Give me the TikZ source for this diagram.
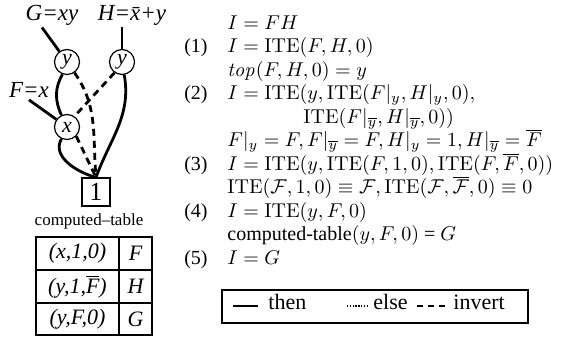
\documentclass[tikz,border=0pt]{standalone}
\usepackage{amsmath, amssymb}
\usepackage[no-math]{fontspec}
\setmainfont{Liberation Serif}
\usepackage{tikz}

\tikzset{
  bddnode/.style={circle, draw, line width=0.6pt, inner sep=0pt, minimum size=12.5pt, font=\fontsize{11}{12}\selectfont\itshape},
  termbox/.style={rectangle, draw, line width=0.6pt, inner sep=0pt, minimum size=14pt, font=\fontsize{13}{14}\selectfont},
  funclabel/.style={inner sep=1pt, font=\fontsize{11.5}{13}\selectfont\itshape},
  thenedge/.style={line width=1.4pt},
  invedge/.style={line width=1.4pt, dash pattern=on 3.5pt off 2.5pt},
  eqn/.style={anchor=base west, inner sep=0pt},
  eqnum/.style={anchor=base east, inner sep=0pt},
  cell/.style={inner sep=0pt, font=\fontsize{11}{12}\selectfont\itshape}
}

\begin{document}
\begin{tikzpicture}[x=0.5pt, y=-0.5pt]
  \useasboundingbox (0,0) rectangle (570,341);
  % shared BDD
  \node[funclabel] (Glab) at (52,15) {G=xy};
  \node[funclabel] (Hlab) at (132,15) {H=\=x+y};
  \node[funclabel] (Flab) at (29,90) {F=x};
  \node[bddnode] (yl) at (67,62) {y};
  \node[bddnode] (yr) at (122,62) {y};
  \node[bddnode] (xn) at (67,127) {x};
  \node[termbox] (one) at (96,192) {1};
  \draw[thenedge] ([xshift=-5pt]Glab.south) -- (yl);
  \draw[thenedge] (Hlab.south -| yr) -- (yr);
  \draw[thenedge] (Flab.south) -- (xn);
  \draw[thenedge] (yl.250) to[out=240, in=115] (xn.115);
  \draw[invedge] (yl.-55) to[out=-55, in=95] (one.north);
  \draw[invedge] (yr.235) -- (xn.55);
  \draw[thenedge] (yr.-80) to[out=-80, in=70] (one.north);
  \draw[thenedge] (xn.245) to[out=240, in=165] (one.north);
  \draw[invedge] (xn.-45) -- (one.north);
  % computed table
  \node[inner sep=0pt, font=\fontsize{8.5}{10}\selectfont] (ctlabel) at (89,221) {computed–table};
  \draw[line width=0.7pt] (36,237) rectangle (152,335);
  \draw[line width=0.7pt] (119,237) -- (119,335);
  \draw[line width=0.7pt] (36,270) -- (152,270) (36,303) -- (152,303);
  \node[cell] (k1) at (77.5,253.5) {(x,1,0)};
  \node[cell] (k2) at (77.5,286.5) {(y,1,$\overline{\textit{F}}$)};
  \node[cell] (k3) at (77.5,319) {(y,F,0)};
  \node[cell] (v1) at (135.5,253.5) {F};
  \node[cell] (v2) at (135.5,286.5) {H};
  \node[cell] (v3) at (135.5,319) {G};
  % derivation
  \node[eqn] (e0) at (227,30) {$I = FH$};
  \node[eqnum] (n1) at (208,53) {(1)};
  \node[eqn] (e1) at (227,53) {$I = \mathrm{ITE}(F,H,0)$};
  \node[eqn] (e2) at (227,77) {$\mathit{top}(F,H,0) = y$};
  \node[eqnum] (n2) at (208,100) {(2)};
  \node[eqn] (e3) at (227,100) {$I = \mathrm{ITE}(y, \mathrm{ITE}(F|_y, H|_y, 0),$};
  \node[eqn] (e4) at (303,124) {$\mathrm{ITE}(F|_{\overline{y}}, H|_{\overline{y}}, 0))$};
  \node[eqn] (e5) at (227,147) {$F|_y = F, F|_{\overline{y}} = F, H|_y = 1, H|_{\overline{y}} = \overline{F}$};
  \node[eqnum] (n3) at (208,171) {(3)};
  \node[eqn] (e6) at (227,171) {$I = \mathrm{ITE}(y, \mathrm{ITE}(F,1,0), \mathrm{ITE}(F,\overline{F},0))$};
  \node[eqn] (e7) at (227,194) {$\mathrm{ITE}(\mathcal{F},1,0) \equiv \mathcal{F}, \mathrm{ITE}(\mathcal{F},\overline{\mathcal{F}},0) \equiv 0$};
  \node[eqnum] (n4) at (208,218) {(4)};
  \node[eqn] (e8) at (227,218) {$I = \mathrm{ITE}(y,F,0)$};
  \node[eqn] (e9) at (227,241) {computed-table$(y,F,0)$ = $G$};
  \node[eqnum] (n5) at (208,265) {(5)};
  \node[eqn] (e10) at (227,265) {$I = G$};
  % legend
  \node[draw, line width=0.7pt, minimum width=153pt, minimum height=16.5pt, inner sep=0pt] (legend) at (375,306.5) {};
  \draw[line width=1.3pt] (233,306) -- (258,306);
  \node[eqn, font=\fontsize{11}{12}\selectfont] (lthen) at (268,310) {then};
  \draw[line width=1.4pt, dash pattern=on 0.7pt off 0.7pt] (347,306) -- (368,306);
  \node[eqn, font=\fontsize{11}{12}\selectfont] (lelse) at (373,310) {else};
  \draw[line width=1.3pt, dash pattern=on 3pt off 2.5pt] (417,306) -- (445,306);
  \node[eqn, font=\fontsize{11}{12}\selectfont] (linvert) at (453,310) {invert};
\end{tikzpicture}
\end{document}
